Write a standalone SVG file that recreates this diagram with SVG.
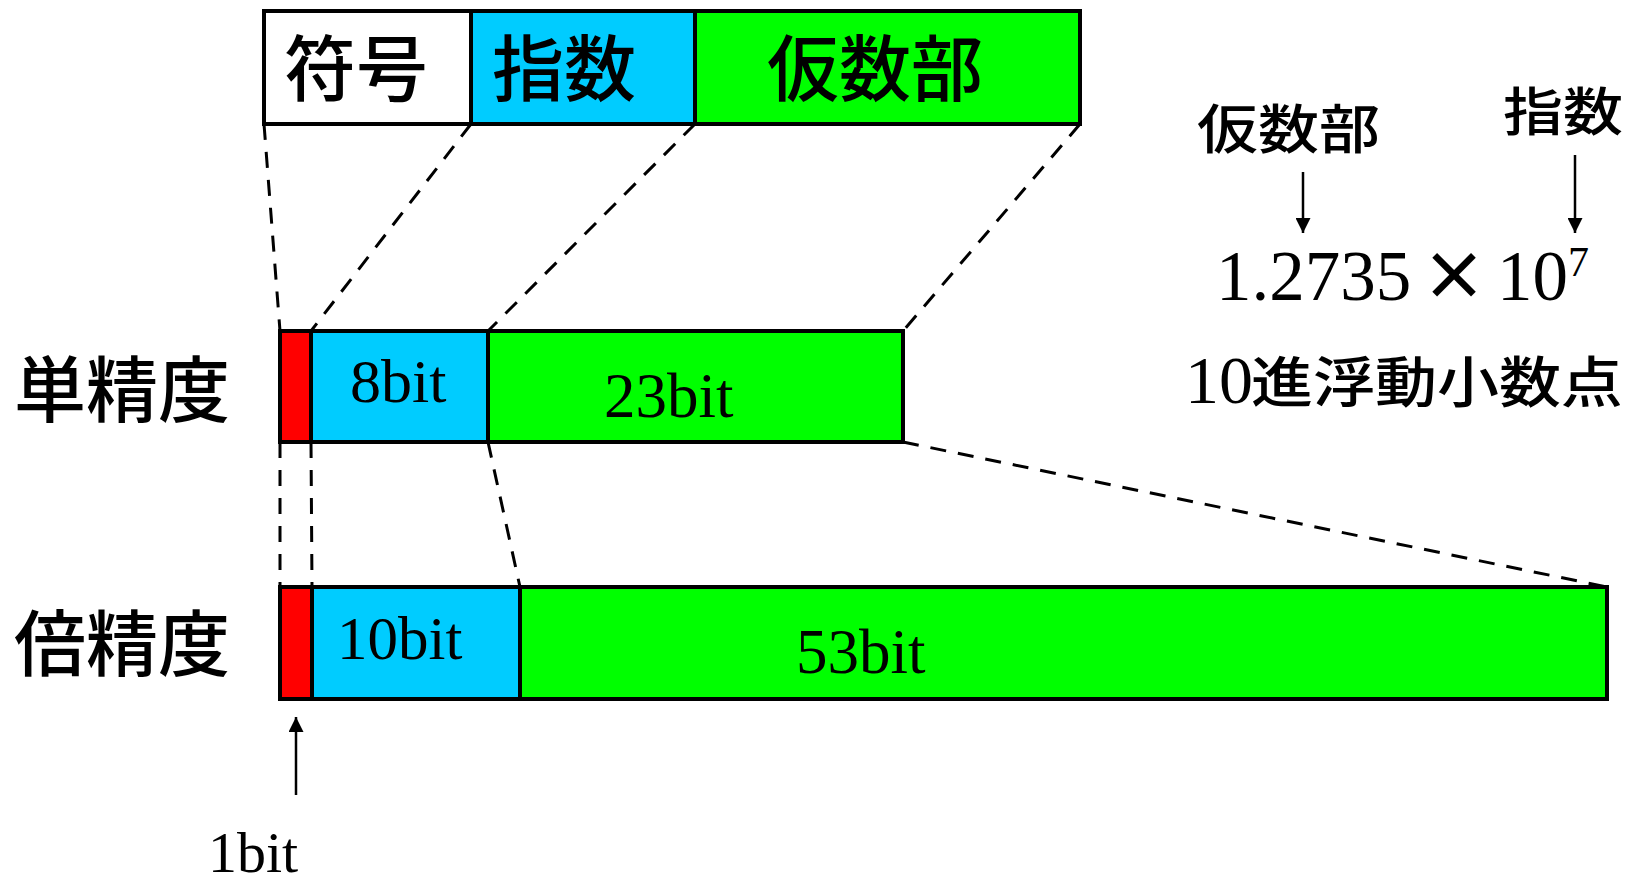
<svg xmlns="http://www.w3.org/2000/svg" width="1642" height="887" viewBox="0 0 1642 887">
<defs>
<style>
.box{stroke:#000;stroke-width:4}
.red{fill:#FF0000}.blue{fill:#00CCFF}.green{fill:#00FF00}.white{fill:#FFFFFF}
.jp{font-family:"Noto Sans CJK JP","Noto Sans CJK SC",sans-serif;fill:#000;font-weight:500}
.lat{font-family:"Liberation Serif","Times New Roman",serif;fill:#000}
.dash{stroke:#000;stroke-width:3;stroke-dasharray:16 12;fill:none}
.arr{stroke:#000;stroke-width:2.5;fill:none}
</style>
<marker id="ah" viewBox="0 0 10 10" refX="10" refY="5" markerWidth="15" markerHeight="15" markerUnits="userSpaceOnUse" orient="auto">
<path d="M0,0 L10,5 L0,10 Z" fill="#000"/>
</marker>
</defs>
<rect width="1642" height="887" fill="#fff"/>

<g id="connectors">
<line class="dash" x1="264" y1="124" x2="280" y2="331"/>
<line class="dash" x1="471" y1="124" x2="311" y2="331"/>
<line class="dash" x1="695" y1="124" x2="488" y2="331"/>
<line class="dash" x1="1080" y1="124" x2="903" y2="331"/>
<line class="dash" x1="280" y1="442" x2="280" y2="587"/>
<line class="dash" x1="311" y1="442" x2="312" y2="587"/>
<line class="dash" x1="488" y1="442" x2="520" y2="587"/>
<line class="dash" x1="903" y1="442" x2="1607" y2="587"/>
<line class="arr" x1="296" y1="795" x2="296" y2="717" marker-end="url(#ah)"/>
<line class="arr" x1="1303" y1="172" x2="1303" y2="233" marker-end="url(#ah)"/>
<line class="arr" x1="1575" y1="155" x2="1575" y2="233" marker-end="url(#ah)"/>
</g>

<g id="format">
<rect class="box white" x="264" y="11" width="207" height="113"/>
<rect class="box blue" x="471" y="11" width="224" height="113"/>
<rect class="box green" x="695" y="11" width="385" height="113"/>
<text class="jp" x="284" y="95" font-size="72">符号</text>
<text class="jp" x="492" y="95" font-size="72">指数</text>
<text class="jp" x="767" y="95" font-size="72">仮数部</text>
</g>

<g id="single">
<rect class="box red" x="280" y="331" width="31" height="111"/>
<rect class="box blue" x="311" y="331" width="177" height="111"/>
<rect class="box green" x="488" y="331" width="415" height="111"/>
<text class="lat" x="350" y="402" font-size="62">8bit</text>
<text class="lat" x="604" y="417" font-size="63">23bit</text>
<text class="jp" x="14" y="416" font-size="72">単精度</text>
</g>

<g id="double">
<rect class="box red" x="280" y="587" width="32" height="112"/>
<rect class="box blue" x="312" y="587" width="208" height="112"/>
<rect class="box green" x="520" y="587" width="1087" height="112"/>
<text class="lat" x="337" y="659" font-size="61">10bit</text>
<text class="lat" x="796" y="673" font-size="63">53bit</text>
<text class="jp" x="14" y="670" font-size="72">倍精度</text>
</g>

<g id="onebit">
<text class="lat" x="208" y="872" font-size="58">1bit</text>
</g>

<g id="example">
<text class="jp" transform="translate(1197,149) scale(1,0.88)" font-size="61">仮数部</text>
<text class="jp" transform="translate(1503,131) scale(1,0.88)" font-size="60">指数</text>
<text class="lat" x="1216" y="300" font-size="71">1.2735</text>
<text x="1454" y="300" font-size="66" text-anchor="middle" font-family="Noto Sans CJK JP, sans-serif" font-weight="bold">×</text>
<text class="lat" x="1497" y="300" font-size="71">10</text>
<text class="lat" x="1568" y="276" font-size="42">7</text>
<text class="lat" x="1185" y="403" font-size="68">10</text>
<text class="jp" transform="translate(1251,402) scale(1,0.88)" font-size="62">進浮動小数点</text>
</g>
</svg>
